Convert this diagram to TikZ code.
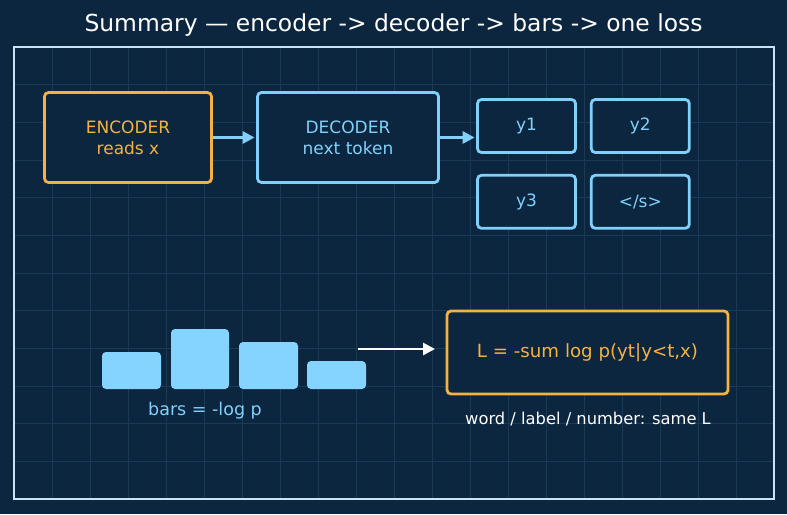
\documentclass[tikz,border=0pt]{standalone}
\usepackage{fontspec}
\setsansfont{DejaVu Sans}
\usetikzlibrary{arrows.meta,positioning,calc}
\definecolor{navy}{RGB}{12,38,63}
\definecolor{gridblue}{RGB}{28,58,86}
\definecolor{framewhite}{RGB}{200,228,244}
\definecolor{amber}{RGB}{245,178,66}
\definecolor{skyblue}{RGB}{128,208,250}
\definecolor{barblue}{RGB}{133,212,255}
\tikzset{every picture/.style={/utils/exec={\sffamily}}}

\begin{document}
\begin{tikzpicture}[x=1pt, y=-1pt, >={Triangle[length=12pt,width=12pt]},
   block/.style={draw, line width=2.8pt, rounded corners=4pt, inner sep=0pt,
     font=\fontsize{17}{21}\selectfont},
   encbox/.style={block, color=amber, fill=navy},
   decbox/.style={block, color=skyblue, fill=navy},
   tokbox/.style={decbox, minimum width=98pt, minimum height=53pt},
   link/.style={->, skyblue, line width=2.8pt, shorten >=1.5pt},
   every text node part/.style={align=center}]

    % background, grid and frame
    \fill[navy] (0,0) rectangle (787,514);
    \useasboundingbox (0,0) rectangle (787,514);
    \foreach \i in {1,...,19}
      \draw[gridblue, line width=0.8pt] ({14+38*\i},47) -- ({14+38*\i},499);
    \foreach \j in {1,...,11}
      \draw[gridblue, line width=0.8pt] (14,{47+37.67*\j}) -- (774,{47+37.67*\j});
    \draw[framewhite, line width=1.8pt] (14,47) rectangle (774,499);

    \node[white, font=\fontsize{23.4}{27}\selectfont] (title) at (393.5,25.5)
      {Summary — encoder -> decoder -> bars -> one loss};

    % Place nodes
    \node [encbox, minimum width=167pt, minimum height=90pt] (enc) at (128,137.5) {ENCODER\\reads x};
    \node [decbox, minimum width=181pt, minimum height=90pt] (dec) at (348,137.5) {DECODER\\next token};
    \node [tokbox] (y1) at (526.5,126) {y1};
    \node [tokbox, right=13pt of y1] (y2) {y2};
    \node [tokbox, below=20pt of y1] (y3) {y3};
    \node [tokbox, right=13pt of y3] (eos) {</s>};

    \node [encbox, minimum width=281pt, minimum height=83pt, font=\fontsize{18.2}{22}\selectfont]
      (loss) at (587.5,352.5) {L = -sum log p(yt|y<t,x)};
    \node [white, font=\fontsize{16.3}{20}\selectfont] (note) at (588,419)
      {word / label / number: same L};

    % bars
    \fill[barblue, rounded corners=4pt] (102,352) rectangle (161,389);
    \fill[barblue, rounded corners=4pt] (171,329) rectangle (229,389);
    \fill[barblue, rounded corners=4pt] (239,342) rectangle (298,389);
    \fill[barblue, rounded corners=4pt] (307,361) rectangle (366,389);
    \node [skyblue, font=\fontsize{17.5}{21}\selectfont] (bars) at (205,411) {bars = -log p};

    % Draw edges
    \draw[link] (enc) -- (dec);
    \draw[link] (dec.east) -- (dec.east -| y1.west);
    \coordinate (barsout) at (358,349);
    \coordinate (lossin) at (435,349);
    \draw[->, white, line width=2.8pt] (barsout) -- (lossin);
\end{tikzpicture}
\end{document}
